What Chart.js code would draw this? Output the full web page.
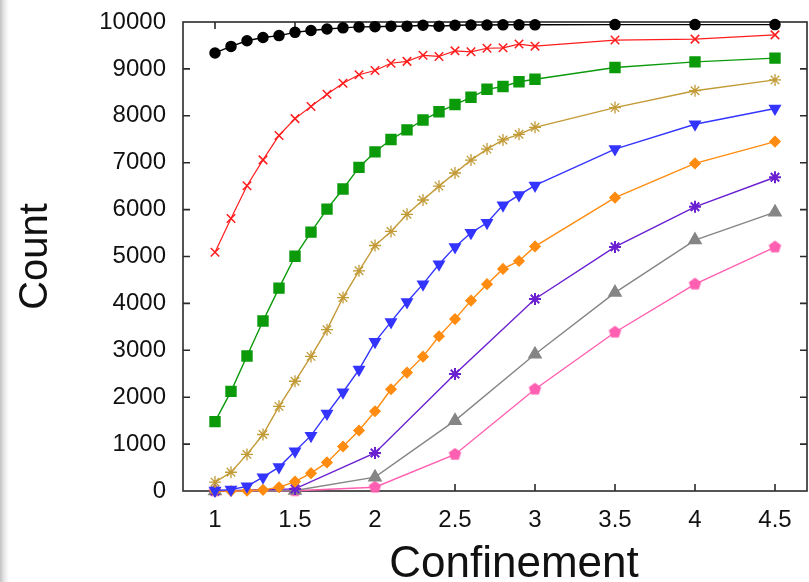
<!DOCTYPE html>
<html>
<head>
<meta charset="utf-8">
<script src="https://cdn.jsdelivr.net/npm/chart.js@4/dist/chart.umd.min.js"></script>
<style>
  html, body { margin: 0; padding: 0; }
  body {
    width: 809px; height: 582px; overflow: hidden;
    background: linear-gradient(to right, #c2c2c2 0px, #e6e6e6 4px, #ffffff 9px);
  }
  canvas { display: block; }
</style>
</head>
<body>
<canvas id="c" width="809" height="582"></canvas>
<script>
// Confinement sample points (dense run 1.0–3.0, then coarse steps)
const xFine = [1.0, 1.1, 1.2, 1.3, 1.4, 1.5, 1.6, 1.7, 1.8, 1.9, 2.0,
               2.1, 2.2, 2.3, 2.4, 2.5, 2.6, 2.7, 2.8, 2.9, 3.0, 3.5, 4.0, 4.5];
const xCoarse = [1.0, 1.5, 2.0, 2.5, 3.0, 3.5, 4.0, 4.5];

// Counts per series
const blackCounts  = [9340, 9480, 9600, 9670, 9710, 9780, 9820, 9850, 9875, 9895, 9900,
                      9910, 9910, 9930, 9910, 9930, 9935, 9935, 9940, 9940, 9940, 9945, 9945, 9945];
const redCounts    = [5090, 5810, 6510, 7060, 7580, 7940, 8200, 8460, 8695, 8875, 8965,
                      9120, 9160, 9290, 9265, 9385, 9365, 9440, 9450, 9530, 9485, 9615, 9635, 9725];
const greenCounts  = [1480, 2125, 2880, 3625, 4325, 5005, 5520, 6010, 6440, 6900, 7230,
                      7495, 7700, 7910, 8085, 8240, 8395, 8565, 8625, 8725, 8780, 9030, 9150, 9230];
const goldCounts   = [190, 400, 780, 1205, 1805, 2340, 2870, 3440, 4125, 4695, 5235,
                      5535, 5900, 6205, 6500, 6780, 7055, 7290, 7485, 7605, 7755, 8175, 8535, 8765];
const blueCounts   = [10, 30, 100, 295, 510, 850, 1180, 1650, 2105, 2590, 3180,
                      3605, 4030, 4410, 4835, 5205, 5505, 5720, 6095, 6310, 6515, 7290, 7820, 8155];
const orangeCounts = [0, 0, 5, 25, 80, 200, 380, 610, 950, 1290, 1700,
                      2170, 2525, 2865, 3300, 3665, 4060, 4410, 4735, 4905, 5215, 6255, 6985, 7450];
const purpleCounts = [0, 45, 810, 2495, 4095, 5205, 6060, 6690];
const grayCounts   = [0, 10, 295, 1500, 2915, 4230, 5350, 5945];
const pinkCounts   = [0, 5, 80, 780, 2170, 3385, 4410, 5200];

// Axis tick values
const xTicks = [1, 1.5, 2, 2.5, 3, 3.5, 4, 4.5];
const yTicks = [0, 1000, 2000, 3000, 4000, 5000, 6000, 7000, 8000, 9000, 10000];

const xTitle = 'Confinement';
const yTitle = 'Count';

const pts = (xs, ys) => xs.map((x, i) => ({ x: x, y: ys[i] }));

// Filled pentagon marker drawn onto a small canvas
function pentagon(r, color) {
  const c = document.createElement('canvas');
  const s = Math.ceil(r * 2 + 2);
  c.width = s; c.height = s;
  const g = c.getContext('2d');
  g.fillStyle = color;
  g.beginPath();
  for (let i = 0; i < 5; i++) {
    const a = -Math.PI / 2 + i * 2 * Math.PI / 5;
    const px = s / 2 + r * Math.cos(a), py = s / 2 + r * Math.sin(a);
    if (i) g.lineTo(px, py); else g.moveTo(px, py);
  }
  g.closePath();
  g.fill();
  return c;
}

function series(data, color, style, radius, extra) {
  return Object.assign({
    data: data,
    borderColor: color,
    backgroundColor: color,
    borderWidth: 1.4,
    pointStyle: style,
    pointRadius: radius,
    pointBorderColor: color,
    pointBackgroundColor: color,
    pointBorderWidth: 1.5,
    tension: 0,
    clip: false
  }, extra || {});
}

const FONT = "'Liberation Sans', Arial, Helvetica, sans-serif";

// Plot frame with inward ticks on all four sides, plus the x-axis title
const framePlugin = {
  id: 'frame',
  beforeDatasetsDraw(chart) {
    const { ctx, chartArea: a, scales: { x, y } } = chart;
    const L = 7;
    ctx.save();
    ctx.strokeStyle = '#2b2b2b';
    ctx.lineWidth = 1.6;
    ctx.strokeRect(a.left, a.top, a.right - a.left, a.bottom - a.top);
    ctx.beginPath();
    for (const v of xTicks) {
      const px = x.getPixelForValue(v);
      ctx.moveTo(px, a.bottom); ctx.lineTo(px, a.bottom - L);
      ctx.moveTo(px, a.top); ctx.lineTo(px, a.top + L);
    }
    for (const v of yTicks) {
      if (v === yTicks[0] || v === yTicks[yTicks.length - 1]) continue;
      const py = y.getPixelForValue(v);
      ctx.moveTo(a.left, py); ctx.lineTo(a.left + L, py);
      ctx.moveTo(a.right, py); ctx.lineTo(a.right - L, py);
    }
    ctx.stroke();
    ctx.restore();
  },
  afterDraw(chart) {
    const { ctx } = chart;
    ctx.save();
    ctx.fillStyle = '#111';
    ctx.font = '44px ' + FONT;
    ctx.textAlign = 'center';
    ctx.textBaseline = 'alphabetic';
    ctx.fillText(xTitle, 514, 577);
    ctx.restore();
  }
};

new Chart(document.getElementById('c'), {
  type: 'line',
  data: {
    datasets: [
      series(pts(xFine, blackCounts),  '#000000', 'circle',   5),
      series(pts(xFine, redCounts),    '#ff1c1c', 'crossRot', 6, { borderWidth: 1.2 }),
      series(pts(xFine, greenCounts),  '#0a9a0a', 'rect',     7),
      series(pts(xFine, goldCounts),   '#c29a36', 'star',     6, { pointBorderWidth: 1.3 }),
      series(pts(xFine, blueCounts),   '#3434ff', 'triangle', 6, { pointRotation: 180 }),
      series(pts(xFine, orangeCounts), '#ff8c10', 'rectRot',  5),
      series(pts(xCoarse, purpleCounts), '#6a1fd0', 'star',   6, { pointBorderWidth: 2 }),
      series(pts(xCoarse, grayCounts),   '#858585', 'triangle', 7),
      series(pts(xCoarse, pinkCounts),   '#ff5fb0', pentagon(6.5, '#ff5fb0'), 6.5)
    ]
  },
  options: {
    responsive: false,
    animation: false,
    devicePixelRatio: 1,
    layout: { autoPadding: false, padding: { top: 22, right: 2, left: 0, bottom: 0 } },
    plugins: { legend: { display: false }, tooltip: { enabled: false } },
    scales: {
      x: {
        type: 'linear',
        min: 0.8,
        max: 4.7,
        grid: { display: false, drawTicks: false },
        border: { display: false },
        afterBuildTicks: (s) => { s.ticks = xTicks.map(v => ({ value: v })); },
        afterFit: (s) => { s.height = 91; s.paddingLeft = 0; s.paddingRight = 0; },
        ticks: {
          padding: 15,
          color: '#111',
          font: { family: FONT, size: 24 },
          callback: (v) => String(v),
          maxRotation: 0,
          autoSkip: false
        }
      },
      y: {
        min: 0,
        max: 10000,
        grid: { display: false, drawTicks: false },
        border: { display: false },
        afterBuildTicks: (s) => { s.ticks = yTicks.map(v => ({ value: v })); },
        afterFit: (s) => { s.width = 183; s.paddingTop = 0; s.paddingBottom = 0; },
        ticks: {
          padding: 17,
          color: '#111',
          font: { family: FONT, size: 24 },
          callback: (v) => String(v),
          autoSkip: false
        },
        title: {
          display: true,
          text: yTitle,
          color: '#111',
          font: { family: FONT, size: 40, lineHeight: 1 },
          padding: { top: 16, bottom: 0 }
        }
      }
    }
  },
  plugins: [framePlugin]
});
</script>
</body>
</html>
